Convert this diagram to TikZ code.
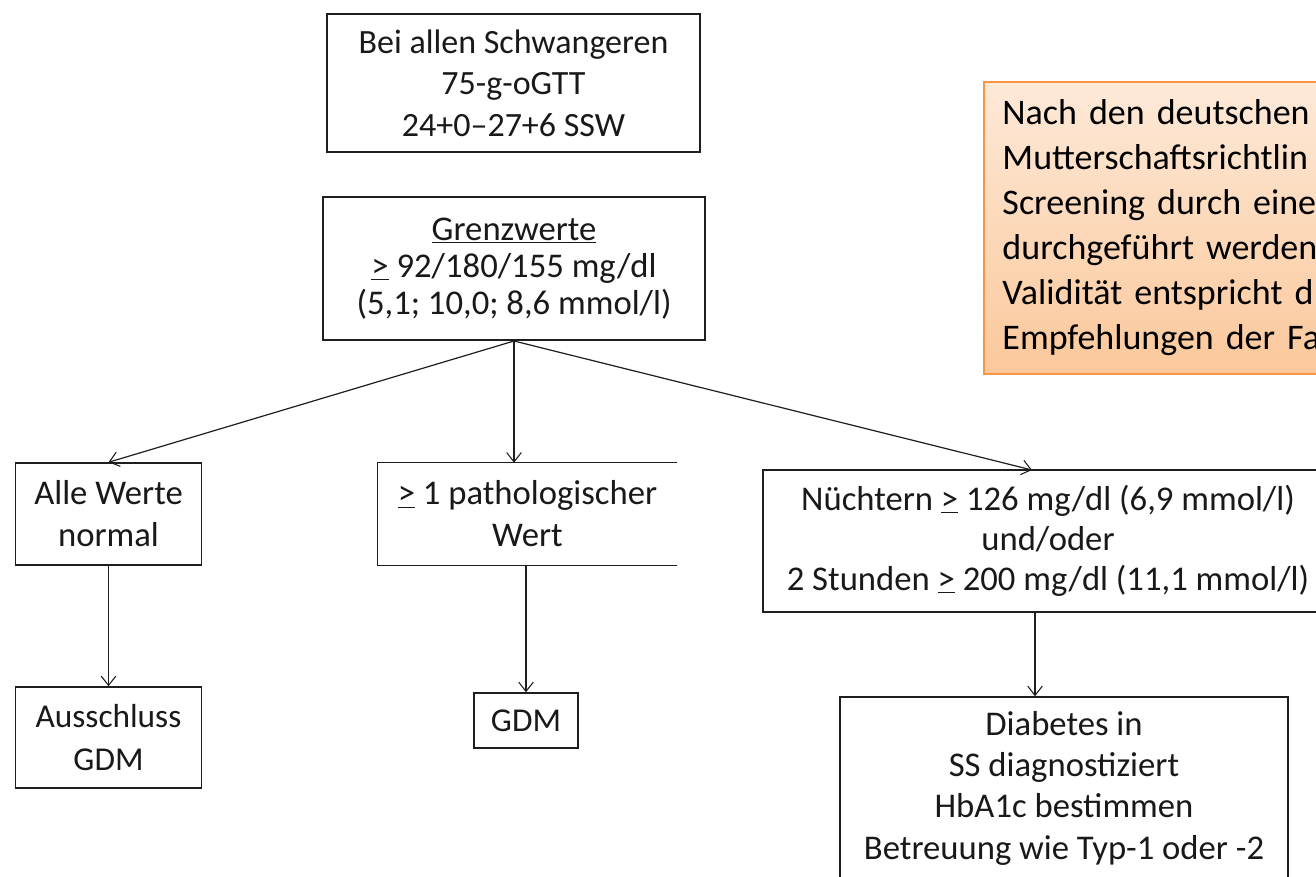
\documentclass[tikz,border=0pt]{standalone}
\usepackage{fontspec}
\setmainfont{Carlito}
\usetikzlibrary{arrows.meta}
\definecolor{boxline}{RGB}{30,30,30}
\definecolor{txt}{RGB}{25,25,25}
\definecolor{notetop}{RGB}{253,233,216}
\definecolor{notebot}{RGB}{251,200,155}
\definecolor{noteline}{RGB}{247,150,70}
\begin{document}
\begin{tikzpicture}[x=0.75pt,y=-0.75pt,
  box/.style={draw=boxline, line width=1.1pt, align=center, inner sep=0pt, text=txt},
  openbox/.style={align=center, inner sep=0pt, text=txt},
  conn/.style={draw=boxline, line width=0.9pt, -{Straight Barb[length=7pt,width=11pt,line width=0.8pt]}},
  note/.style={draw=noteline, line width=1.2pt, top color=notetop, bottom color=notebot,
    align=left, text width=300pt, inner xsep=14pt, inner ysep=13.5pt, anchor=north west},
]
\useasboundingbox (0,0) rectangle (1316,877);
\clip (0,0) rectangle (1316,877);
\fill[white] (0,0) rectangle (1316,877);

\node[box, minimum width=279.75pt, minimum height=103.5pt,
  font=\fontsize{25.5}{31}\selectfont] (b1) at (513.5,83)
  {Bei allen Schwangeren\\75-g-oGTT\\24+0–27+6 SSW};

\node[box, minimum width=286.5pt, minimum height=107.25pt,
  font=\fontsize{26}{28}\selectfont] (b2) at (514,268.5)
  {\underline{Grenzwerte}\\\underline{>} 92/180/155 mg/dl\\(5,1; 10,0; 8,6 mmol/l)};

\node[box, minimum width=139.5pt, minimum height=76.5pt,
  font=\fontsize{26}{31.5}\selectfont] (b3) at (108.5,514)
  {Alle Werte\\normal};

\node[openbox, minimum width=224.25pt, minimum height=76.5pt,
  font=\fontsize{26}{31.5}\selectfont] (b4) at (527.5,514)
  {\underline{>} 1 pathologischer\\Wert};

\node[box, minimum width=427.5pt, minimum height=106.5pt,
  font=\fontsize{26}{30}\selectfont] (b5) at (1048,541)
  {Nüchtern \underline{>} 126 mg/dl (6,9 mmol/l)\\und/oder\\2 Stunden \underline{>} 200 mg/dl (11,1 mmol/l)};

\node[box, minimum width=78pt, minimum height=41.25pt,
  font=\fontsize{25}{30}\selectfont] (b6) at (526,720.5) {GDM};

\node[box, minimum width=139.5pt, minimum height=75.75pt,
  font=\fontsize{25}{32}\selectfont] (b7) at (108.5,737.5)
  {Ausschluss\\GDM};

\node[box, minimum width=336pt, minimum height=136.5pt,
  font=\fontsize{26}{31}\selectfont] (b8) at (1064,788)
  {Diabetes in\\SS diagnostiziert\\HbA1c bestimmen\\Betreuung wie Typ-1 oder -2};

\node[note, font=\fontsize{27}{33.75}\selectfont] (n1) at (983,81)
  {Nach den deutschen\\Mutterschaftsrichtlin\\Screening durch eine\\durchgeführt werden\\Validität entspricht d\\Empfehlungen der Fa};

\draw[boxline, line width=1.1pt] (b4.north east) -- (b4.north west) -- (b4.south west) -- (b4.south east);

\coordinate (apex) at (514,341);
\coordinate (t5) at (1032,470);
\coordinate (d5) at (1035,0);
\draw[conn] (apex) -- (b3.north);
\draw[conn] (apex) -- (apex |- b4.north);
\draw[conn] (apex) -- (t5);
\draw[conn] (b3.south) -- (b7.north);
\draw[conn] (b6.north |- b4.south) -- (b6.north);
\draw[conn] (b5.south -| d5) -- (b8.north -| d5);
\end{tikzpicture}
\end{document}
